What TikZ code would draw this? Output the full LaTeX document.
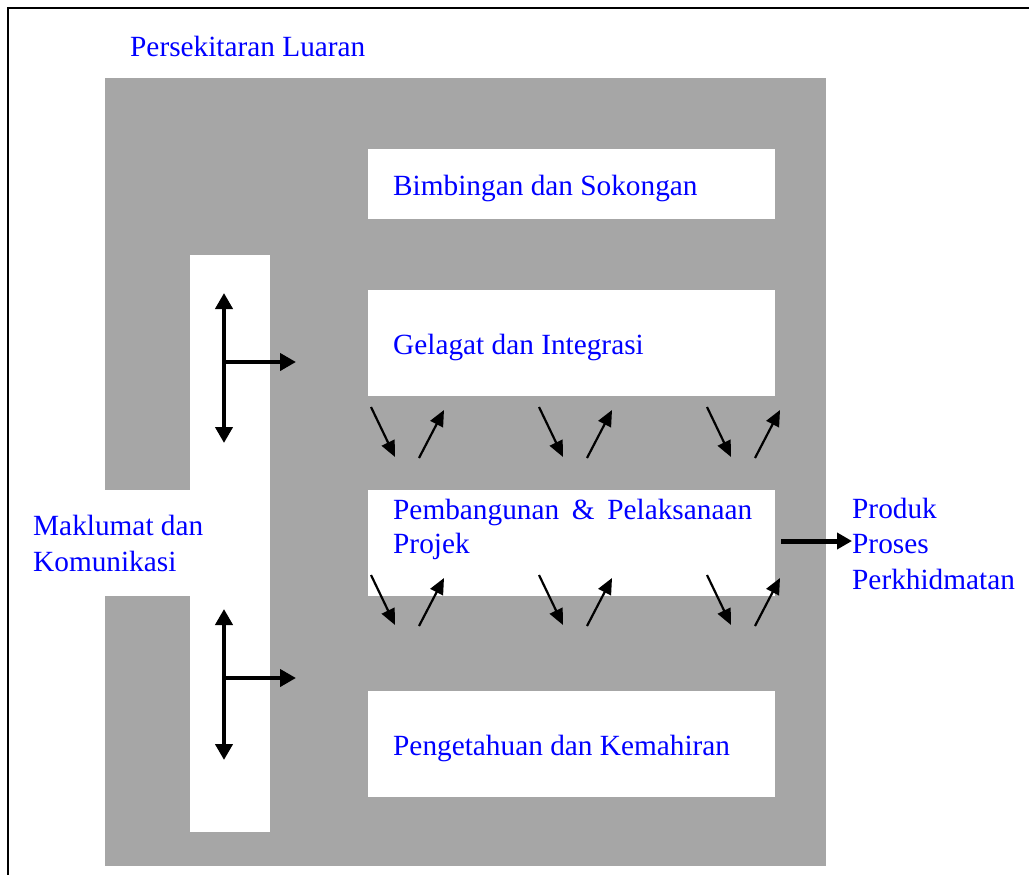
\documentclass[tikz,border=0pt]{standalone}
\usepackage{fontspec}
\setmainfont{Liberation Serif}
\usetikzlibrary{arrows.meta}
\definecolor{gfill}{RGB}{166,166,166}
\definecolor{tblue}{RGB}{0,0,255}
\begin{document}
\begin{tikzpicture}[x=1pt,y=-1pt,
  lbl/.style={anchor=base west, inner sep=0pt, text=tblue, font=\fontsize{29.3}{34}\selectfont},
  hole/.style={fill=white, draw=none, inner sep=0pt, outer sep=0pt, anchor=north west},
  tarrow/.style={line width=4pt, -{Triangle[length=16pt,width=17pt]}},
  tdouble/.style={line width=4pt, {Triangle[length=16pt,width=17pt]}-{Triangle[length=16pt,width=17pt]}},
  smallarrow/.style={line width=2.2pt, -{Triangle[length=16pt,width=14pt]}},
  bigarrow/.style={line width=5pt, -{Triangle[length=15pt,width=16pt]}}
]
\useasboundingbox (0,0) rectangle (1029,875);
% frame
\draw[line width=2.5pt] (8,875) -- (8,8) -- (1029,8);
% gray environment
\fill[gfill] (105,78) rectangle (826,866);
% white cut-outs
\node[hole, minimum width=407pt, minimum height=70pt] (bimb) at (368,149) {};
\node[hole, minimum width=407pt, minimum height=106pt] (gel) at (368,290) {};
\node[hole, minimum width=407pt, minimum height=106pt] (pemb) at (368,490) {};
\node[hole, minimum width=407pt, minimum height=106pt] (peng) at (368,691) {};
\node[hole, minimum width=80pt, minimum height=577pt] (strip) at (190,255) {};
\node[hole, minimum width=87pt, minimum height=106pt] (gap) at (104,490) {};
% labels
\node[lbl] (pers) at (130,57) {Persekitaran Luaran};
\node[lbl] (tbimb) at (393,195) {Bimbingan dan Sokongan};
\node[lbl] (tgel) at (393,354) {Gelagat dan Integrasi};
\node[lbl] (tpemb1) at (393,519) {\hbox to 359pt{Pembangunan\hfill\&\hfill Pelaksanaan}};
\node[lbl] (tpemb2) at (393,553) {Projek};
\node[lbl] (tpeng) at (393,755) {Pengetahuan dan Kemahiran};
\node[lbl] (mak1) at (33,535) {Maklumat dan};
\node[lbl] (mak2) at (33,571) {Komunikasi};
\node[lbl] (prod) at (852,518) {Produk};
\node[lbl] (pros) at (852,553) {Proses};
\node[lbl] (perk) at (852,589) {Perkhidmatan};
% T arrows
\coordinate (u1) at (224,293); \coordinate (d1) at (224,443);
\coordinate (m1) at (224,362); \coordinate (r1) at (296,362);
\draw[tdouble] (u1) -- (d1);
\draw[tarrow] (m1) -- (r1);
\coordinate (u2) at (224,609); \coordinate (d2) at (224,760);
\coordinate (m2) at (224,678); \coordinate (r2) at (296,678);
\draw[tdouble] (u2) -- (d2);
\draw[tarrow] (m2) -- (r2);
% small interaction arrows
\foreach \dx in {0,168,336}{
  \foreach \dy in {0,168}{
    \draw[smallarrow] (371+\dx,407+\dy) -- (395+\dx,457+\dy);
    \draw[smallarrow] (419+\dx,458+\dy) -- (444+\dx,410+\dy);
  }
}
% output arrow
\draw[bigarrow] ([xshift=6pt,yshift=2pt]pemb.east) -- ([yshift=2pt]pemb.east -| pros.west);
\end{tikzpicture}
\end{document}
